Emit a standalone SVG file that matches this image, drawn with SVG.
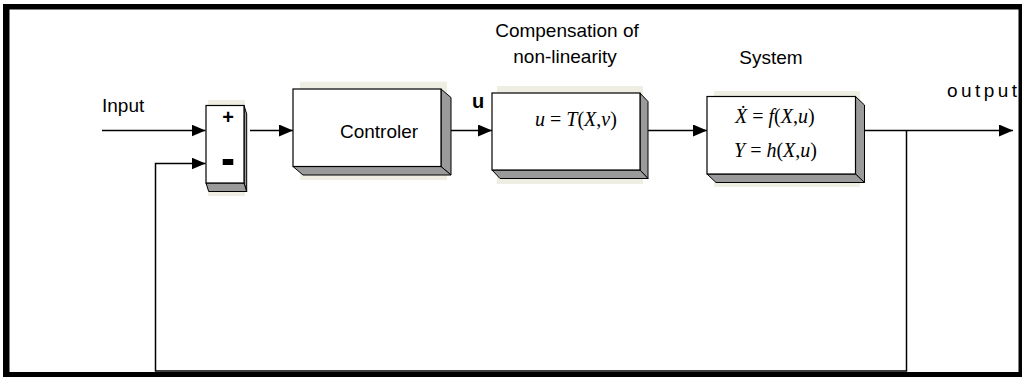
<svg xmlns="http://www.w3.org/2000/svg" width="1022" height="377" viewBox="0 0 1022 377">
<style>
.bg{fill:#eeefe2;stroke:none}
.front{fill:#ffffff;stroke:#000;stroke-width:1.2}
.side{fill:#9a9a9a;stroke:#000;stroke-width:1}
.lbl{font-family:"Liberation Sans",Arial,sans-serif;font-size:19px;fill:#000}
.eq{font-family:"Liberation Serif","Times New Roman",serif;font-size:20px;fill:#000}
.it{font-style:italic}
.wire{fill:none;stroke:#000;stroke-width:1.5}
.frame{fill:#000}
</style>
<defs>
<marker id="arr" viewBox="0 0 14 12" refX="14" refY="6" markerWidth="14" markerHeight="12" markerUnits="userSpaceOnUse" orient="auto">
<path d="M0,0 L14,6 L0,12 Z" fill="#000"/>
</marker>
</defs>
<rect width="1022" height="377" fill="#fff"/>
<g id="frame">
<rect class="frame" x="3" y="4" width="1019" height="5.5"/>
<rect class="frame" x="3" y="4" width="6.5" height="373"/>
<rect class="frame" x="3" y="372" width="1019" height="5"/>
<rect class="frame" x="1018.5" y="4" width="3.5" height="373"/>
</g>
<g id="connectors">
<line class="wire" x1="102" y1="130.5" x2="205.5" y2="130.5" marker-end="url(#arr)"/>
<line class="wire" x1="250" y1="130.5" x2="293" y2="130.5" marker-end="url(#arr)"/>
<line class="wire" x1="451" y1="130.5" x2="492" y2="130.5" marker-end="url(#arr)"/>
<line class="wire" x1="648" y1="130.5" x2="707" y2="130.5" marker-end="url(#arr)"/>
<line class="wire" x1="864.5" y1="130.5" x2="1013" y2="130.5" marker-end="url(#arr)"/>
<polyline class="wire" points="906.5,130.5 906.5,371 155.5,371 155.5,163.5 205.5,163.5" marker-end="url(#arr)"/>
</g>
<g id="sum">
<rect class="bg" x="208" y="100" width="37" height="96"/>
<polygon class="side" points="244,105.5 246.7,114 246.7,191.5 244,183"/>
<polygon class="side" points="206,183 244,183 246.7,191.5 208.7,191.5"/>
<rect class="front" x="206" y="105.5" width="38" height="77.5"/>
<text x="228" y="124" text-anchor="middle" style="font-family:'Liberation Sans',Arial,sans-serif;font-weight:bold;font-size:20px">+</text>
<rect x="222.7" y="159" width="10.6" height="6" fill="#000"/>
</g>
<g id="controller">
<rect class="bg" x="300" y="81.7" width="147" height="98.3"/>
<polygon class="side" points="441,89 451,97.5 451,175 441,166.5"/>
<polygon class="side" points="293,166.5 441,166.5 451,175 303,175"/>
<rect class="front" x="293" y="89" width="148" height="77.5"/>
<text class="lbl" x="379" y="138.3" text-anchor="middle">Controler</text>
</g>
<g id="compensation">
<text class="lbl" x="567" y="36.5" text-anchor="middle">Compensation of</text>
<text class="lbl" x="565" y="63" text-anchor="middle">non-linearity</text>
<text style="font-family:'Liberation Sans',Arial,sans-serif;font-weight:bold;font-size:20px" x="478" y="108.3" text-anchor="middle">u</text>
<rect class="bg" x="497" y="86" width="146" height="98"/>
<polygon class="side" points="640,93 648,101.5 648,178.5 640,170"/>
<polygon class="side" points="492,170 640,170 648,178.5 500,178.5"/>
<rect class="front" x="492" y="93" width="148" height="77"/>
<text class="eq" x="535" y="126"><tspan class="it">u</tspan> = <tspan class="it">T</tspan>(<tspan class="it">X</tspan>,<tspan class="it">v</tspan>)</text>
</g>
<g id="system">
<text class="lbl" x="771" y="64" text-anchor="middle">System</text>
<rect class="bg" x="714" y="91" width="146" height="96"/>
<polygon class="side" points="855.5,96.5 864.5,105 864.5,182.5 855.5,174"/>
<polygon class="side" points="707,174 855.5,174 864.5,182.5 716,182.5"/>
<rect class="front" x="707" y="96.5" width="148.5" height="77.5"/>
<text class="eq" x="735" y="123"><tspan class="it">X&#x307;</tspan> = <tspan class="it">f</tspan>(<tspan class="it">X</tspan>,<tspan class="it">u</tspan>)</text>
<text class="eq" x="734" y="157"><tspan class="it">Y</tspan> = <tspan class="it">h</tspan>(<tspan class="it">X</tspan>,<tspan class="it">u</tspan>)</text>
</g>
<g id="labels">
<text class="lbl" x="102" y="111.5">Input</text>
<text class="lbl" x="947" y="97" textLength="70" lengthAdjust="spacing">output</text>
</g>
</svg>
